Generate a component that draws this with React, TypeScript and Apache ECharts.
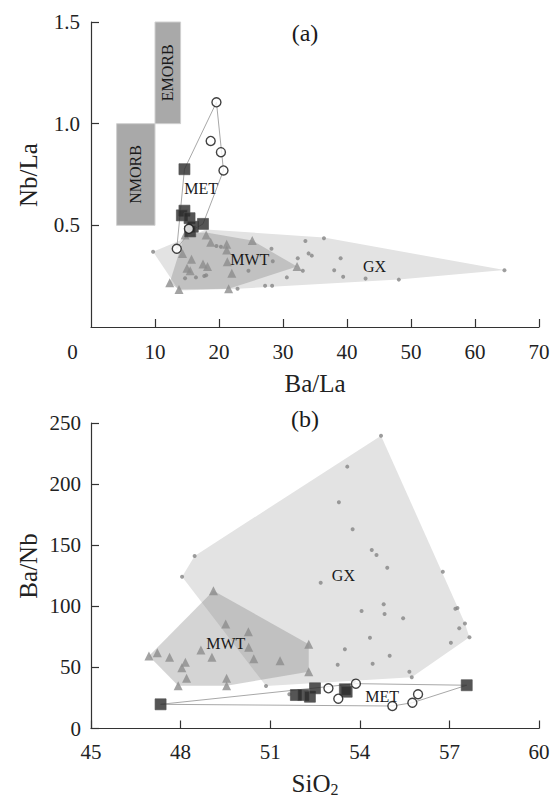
import React, { useEffect, useRef } from "react";
import * as echarts from "echarts";

type P = [number, number];

// ---------- (a) Nb/La vs Ba/La ----------
const gxA: P[] = [
  [9.7, 0.37], [19.6, 0.398], [20.3, 0.395], [28.2, 0.385], [33.5, 0.423], [36.4, 0.436],
  [34.0, 0.362], [34.5, 0.351], [32.3, 0.338], [28.4, 0.323], [24.6, 0.277], [30.6, 0.244],
  [27.2, 0.203], [28.3, 0.203], [22.9, 0.188], [14.7, 0.24], [16.4, 0.244], [17.7, 0.251],
  [18.0, 0.254], [39.0, 0.338], [33.1, 0.277], [38.0, 0.279], [39.4, 0.247], [42.9, 0.238],
  [48.1, 0.233], [64.6, 0.279],
];
const mwtA: P[] = [
  [14.7, 0.452], [18.0, 0.452], [18.7, 0.417], [21.2, 0.407], [25.2, 0.425], [14.3, 0.362],
  [15.7, 0.333], [21.2, 0.379], [17.5, 0.31], [18.2, 0.297], [15.0, 0.289], [15.5, 0.277],
  [21.3, 0.321], [22.0, 0.264], [32.2, 0.297], [12.3, 0.218], [13.75, 0.185], [21.5, 0.188],
];
const metSquaresA: P[] = [
  [14.6, 0.776], [14.6, 0.572], [14.2, 0.549], [15.4, 0.535], [15.9, 0.493], [15.5, 0.47], [17.5, 0.507],
];
const metCirclesA: P[] = [
  [19.6, 1.105], [18.7, 0.915], [20.3, 0.86], [20.7, 0.77], [15.3, 0.483], [13.4, 0.385],
];
const gxHullA: P[] = [[9.7, 0.37], [18, 0.48], [36.4, 0.44], [64.6, 0.28], [48.1, 0.233], [22.9, 0.188], [13.75, 0.18]];
const mwtHullA: P[] = [[12.3, 0.218], [14.7, 0.46], [18.0, 0.465], [25.2, 0.425], [32.2, 0.297], [21.5, 0.188], [13.75, 0.185]];
const metHullA: P[] = [[19.6, 1.105], [20.7, 0.77], [17.5, 0.507], [15.5, 0.47], [13.4, 0.385], [14.6, 0.776]];
const morbNames = ["NMORB", "EMORB"];
const morbX: P[] = [[4, 10], [10, 14]];
const morbY: P[] = [[0.5, 1.0], [1.0, 1.5]];
const labelsA: { t: string; p: P }[] = [
  { t: "MET", p: [17.2, 0.68] },
  { t: "MWT", p: [24.8, 0.333] },
  { t: "GX", p: [44.3, 0.297] },
];

// ---------- (b) Ba/Nb vs SiO2 ----------
const gxB: P[] = [
  [48.47, 141.2], [48.05, 124.2], [52.69, 119.3], [54.71, 239.6], [53.58, 214.3], [53.3, 185.1],
  [53.76, 163], [54.4, 146.1], [54.56, 142], [54.92, 131.6], [56.78, 128.3], [54.8, 101.6],
  [54.06, 96.2], [54.83, 93.7], [55.45, 90.2], [57.2, 98], [57.27, 98.6], [57.52, 86],
  [57.33, 82], [57.67, 74.6], [57.05, 70.2], [54.34, 74.3], [53.5, 64.8], [55.0, 59.6],
  [54.43, 53], [53.26, 52.2], [55.66, 46.5], [55.74, 41.9], [50.86, 34.8], [53.8, 38.9], [51.64, 28],
];
const mwtB: P[] = [
  [46.94, 59.3], [47.22, 62], [47.63, 58.3], [48.16, 54.2], [48.04, 49.8], [48.2, 41.1],
  [47.92, 35], [48.68, 64.2], [49.05, 58.3], [49.51, 85.5], [50.27, 79.2], [50.28, 66.4],
  [50.45, 57.1], [49.54, 41.1], [49.54, 35], [51.33, 55.5], [52.29, 68.9], [52.29, 46.5], [49.1, 112.8],
];
const metSquaresB: P[] = [
  [47.33, 19.8], [51.86, 27.4], [52.11, 27.4], [52.33, 26], [52.5, 32.9], [53.5, 32.1], [53.56, 30.1], [57.58, 35.4],
];
const metCirclesB: P[] = [
  [52.95, 32.9], [53.28, 24.4], [53.87, 36.7], [55.09, 18.4], [55.76, 21.1], [55.95, 28],
];
const gxHullB: P[] = [[48.05, 124.2], [48.47, 141.2], [54.71, 239.6], [57.52, 86], [57.67, 74.6], [55.74, 41.9], [50.86, 34.8]];
const mwtHullB: P[] = [[46.94, 59.3], [49.1, 112.8], [52.29, 68.9], [52.29, 46.5], [49.54, 35], [47.92, 35]];
const metHullB: P[] = [[47.33, 19.8], [53.87, 36.7], [57.58, 35.4], [55.76, 21.1], [55.09, 18.4]];
const labelsB: { t: string; p: P }[] = [
  { t: "GX", p: [53.45, 124.8] },
  { t: "MWT", p: [49.51, 69.7] },
  { t: "MET", p: [54.75, 26] },
];

const SERIF = "'Liberation Serif', 'Times New Roman', serif";

function polySeries(pts: P[], gi: number, fill: string, stroke: string, z: number) {
  return {
    type: "custom",
    xAxisIndex: gi,
    yAxisIndex: gi,
    silent: true,
    z,
    data: [pts[0]],
    renderItem: (_params: any, api: any) => ({
      type: "polygon",
      shape: { points: pts.map((p) => api.coord(p)) },
      style: { fill, stroke, lineWidth: 1 },
    }),
  };
}

function labelSeries(items: { t: string; p: P }[], gi: number) {
  return {
    type: "custom",
    xAxisIndex: gi,
    yAxisIndex: gi,
    silent: true,
    z: 20,
    data: items.map((d) => d.p),
    renderItem: (params: any, api: any) => {
      const c = api.coord([api.value(0), api.value(1)]);
      return {
        type: "text",
        x: c[0],
        y: c[1],
        style: {
          text: items[params.dataIndex].t,
          fill: "#1a1a1a",
          font: `16px ${SERIF}`,
          align: "center",
          verticalAlign: "middle",
        },
      };
    },
  };
}

function scatter(data: P[], gi: number, symbol: string, size: number, style: any, z: number) {
  return {
    type: "scatter",
    xAxisIndex: gi,
    yAxisIndex: gi,
    symbol,
    symbolSize: size,
    data,
    z,
    itemStyle: style,
  };
}

export default function App() {
  const ref = useRef<HTMLDivElement>(null);
  useEffect(() => {
    if (!ref.current) return;
    const chart = echarts.init(ref.current, undefined, { renderer: "svg" });
    const axisLine = { show: true, lineStyle: { color: "#333", width: 1.2 } };
    const axisTick = { show: true, inside: true, length: 8, lineStyle: { color: "#333", width: 1.2 } };
    const lbl = { fontFamily: SERIF, fontSize: 21, color: "#222" };
    const gxDot = { color: "#858585" };
    const tri = { color: "#8c8c8c" };
    const sq = { color: "#2a2a2a", borderColor: "#505050", borderWidth: 0.8 };
    const circ = { color: "#ffffff", borderColor: "#111", borderWidth: 1.4 };
    const title = `25px ${SERIF}`;

    const option: any = {
      animation: false,
      backgroundColor: "#ffffff",
      grid: [
        { left: 91, right: 16, top: 22, height: 305 },
        { left: 91, right: 16, top: 423, height: 305.5 },
      ],
      xAxis: [
        {
          type: "value", gridIndex: 0, min: 0, max: 70, interval: 10,
          axisLine, axisTick, splitLine: { show: false },
          axisLabel: { ...lbl, margin: 14, showMinLabel: false },
        },
        {
          type: "value", gridIndex: 1, min: 45, max: 60, interval: 3,
          axisLine, axisTick, splitLine: { show: false },
          axisLabel: { ...lbl, margin: 13 },
        },
      ],
      yAxis: [
        {
          type: "value", gridIndex: 0, min: 0, max: 1.5, interval: 0.5,
          axisLine, axisTick, splitLine: { show: false },
          axisLabel: { ...lbl, margin: 11, showMinLabel: false, formatter: (v: number) => v.toFixed(1) },
        },
        {
          type: "value", gridIndex: 1, min: 0, max: 250, interval: 50,
          axisLine, axisTick, splitLine: { show: false },
          axisLabel: { ...lbl, margin: 10 },
        },
      ],
      graphic: [
        { type: "text", x: 72.5, y: 352, style: { text: "0", font: `21px ${SERIF}`, fill: "#222", align: "center", verticalAlign: "middle" } },
        { type: "text", x: 305, y: 33, style: { text: "(a)", font: `24px ${SERIF}`, fill: "#1a1a1a", align: "center", verticalAlign: "middle" } },
        { type: "text", x: 305, y: 419, style: { text: "(b)", font: `24px ${SERIF}`, fill: "#1a1a1a", align: "center", verticalAlign: "middle" } },
        { type: "text", x: 315, y: 383, style: { text: "Ba/La", font: title, fill: "#222", align: "center", verticalAlign: "middle" } },
        {
          type: "text", x: 315, y: 783,
          style: {
            text: "SiO{s|2}", font: title, fill: "#222", align: "center", verticalAlign: "middle",
            rich: { s: { fontSize: 16, fontFamily: SERIF, fill: "#222", padding: [12, 0, 0, 0] } },
          },
        },
        { type: "text", x: 28, y: 175, rotation: Math.PI / 2, style: { text: "Nb/La", font: title, fill: "#222", align: "center", verticalAlign: "middle" } },
        { type: "text", x: 28, y: 566, rotation: Math.PI / 2, style: { text: "Ba/Nb", font: title, fill: "#222", align: "center", verticalAlign: "middle" } },
      ],
      series: [
        // (a)
        polySeries(gxHullA, 0, "#e3e3e3", "none", 1),
        polySeries(mwtHullA, 0, "rgba(120,120,120,0.32)", "none", 2),
        polySeries(metHullA, 0, "none", "#a8a8a8", 3),
        {
          type: "custom", xAxisIndex: 0, yAxisIndex: 0, silent: true, z: 4,
          data: morbX.map((x, i) => [x[0], morbY[i][0]]),
          renderItem: (params: any, api: any) => {
            const i = params.dataIndex;
            const p0 = api.coord([morbX[i][0], morbY[i][1]]);
            const p1 = api.coord([morbX[i][1], morbY[i][0]]);
            return {
              type: "group",
              children: [
                { type: "rect", shape: { x: p0[0], y: p0[1], width: p1[0] - p0[0], height: p1[1] - p0[1] }, style: { fill: "#a9a9a9", stroke: "#d0d0d0", lineWidth: 1 } },
                {
                  type: "text", x: (p0[0] + p1[0]) / 2, y: (p0[1] + p1[1]) / 2, rotation: Math.PI / 2,
                  style: { text: morbNames[i], font: `16px ${SERIF}`, fill: "#1a1a1a", align: "center", verticalAlign: "middle" },
                },
              ],
            };
          },
        },
        scatter(gxA, 0, "circle", 4, gxDot, 5),
        scatter(mwtA, 0, "triangle", 9, tri, 6),
        scatter(metSquaresA, 0, "rect", 11, sq, 7),
        scatter(metCirclesA, 0, "circle", 9, circ, 8),
        labelSeries(labelsA, 0),
        // (b)
        polySeries(gxHullB, 1, "#e3e3e3", "none", 1),
        polySeries(mwtHullB, 1, "rgba(120,120,120,0.32)", "none", 2),
        polySeries(metHullB, 1, "none", "#a8a8a8", 3),
        scatter(gxB, 1, "circle", 4, gxDot, 5),
        scatter(mwtB, 1, "triangle", 9, tri, 6),
        scatter(metSquaresB, 1, "rect", 11, sq, 7),
        scatter(metCirclesB, 1, "circle", 9, circ, 8),
        labelSeries(labelsB, 1),
      ],
    };
    chart.setOption(option);
    return () => chart.dispose();
  }, []);
  return (
    <div
      ref={ref}
      style={{ position: "fixed", left: 0, top: 0, width: 555, height: 796, background: "#fff" }}
    />
  );
}
